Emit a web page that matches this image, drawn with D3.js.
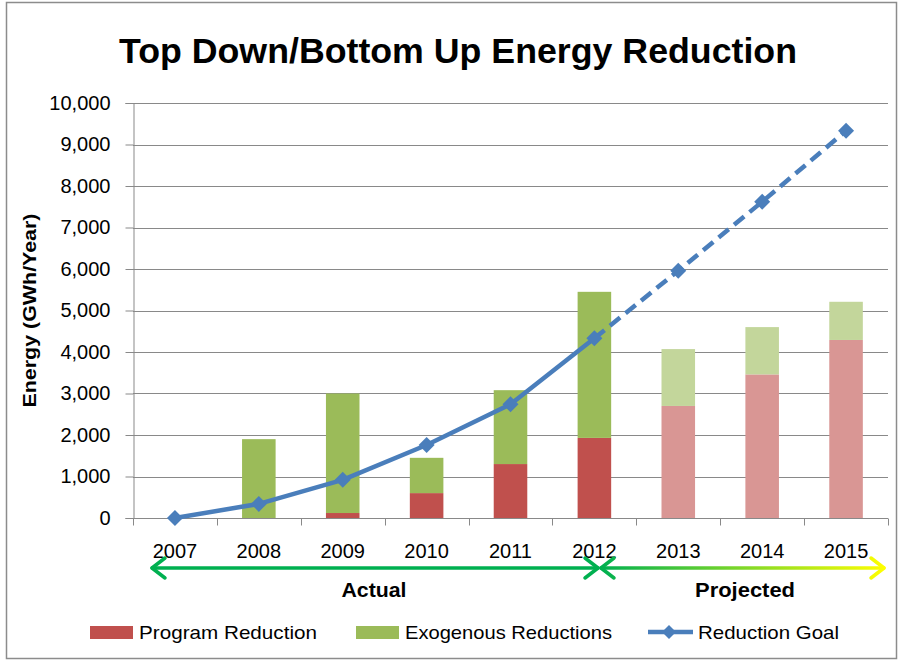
<!DOCTYPE html>
<html>
<head>
<meta charset="utf-8">
<script src="https://cdn.jsdelivr.net/npm/d3@7"></script>
<style>
	body { margin: 0; background: #fff; }
	svg { display: block; font-family: "Liberation Sans", Arial, sans-serif; }
</style>
</head>
<body>
<svg id="chart" width="902" height="662"></svg>
<script>
// chart data
var years = ["2007", "2008", "2009", "2010", "2011", "2012", "2013", "2014", "2015"];
var programReduction = [0, 0, 120, 600, 1300, 1930, 2700, 3460, 4290];
var exogenousReductions = [0, 1900, 2880, 850, 1780, 3520, 1370, 1140, 920];
var reductionGoal = [0, 340, 920, 1760, 2740, 4330, 5960, 7620, 9330];
var projected = [false, false, false, false, false, false, true, true, true];
var yTicks = [0, 1000, 2000, 3000, 4000, 5000, 6000, 7000, 8000, 9000, 10000];

var colors = {
	program: "#C0504D",
	programLight: "#D99694",
	exo: "#9BBB59",
	exoLight: "#C3D69B",
	goal: "#4A7EBB",
	grid: "#898989"
};

var svg = d3.select("#chart");
var margin = {top: 103, right: 14, bottom: 144, left: 133};
var width = 902, height = 662;

//Outer frame
svg.append("rect")
	.attr("x", 6.5).attr("y", 2.5)
	.attr("width", 890).attr("height", 656)
	.attr("fill", "none")
	.attr("stroke", "#8c8c8c")
	.attr("stroke-width", 1.5);

//Title
svg.append("text")
	.attr("x", 119).attr("y", 63)
	.attr("font-size", 35)
	.attr("font-weight", "bold")
	.attr("textLength", 678)
	.attr("lengthAdjust", "spacingAndGlyphs")
	.text("Top Down/Bottom Up Energy Reduction");

//Scales
var x = d3.scaleBand().domain(years).range([margin.left, width - margin.right]).padding(0);
var y = d3.scaleLinear().domain([0, 10000]).range([height - margin.bottom, margin.top]);
var barW = x.bandwidth() * 0.4;
var cx = function(yr){ return x(yr) + x.bandwidth() / 2; };

//Gridlines
svg.append("g").selectAll("line")
	.data(yTicks.filter(function(d){ return d > 0; }))
	.enter().append("line")
	.attr("x1", margin.left).attr("x2", width - margin.right)
	.attr("y1", function(d){ return Math.round(y(d)) + 0.5; })
	.attr("y2", function(d){ return Math.round(y(d)) + 0.5; })
	.attr("stroke", colors.grid)
	.attr("stroke-width", 1);

//Y axis
var yAxis = svg.append("g")
	.attr("transform", "translate(" + (margin.left + 0.5) + ",0)")
	.call(d3.axisLeft(y).tickValues(yTicks).tickSize(8).tickPadding(15).tickFormat(d3.format(",")));
yAxis.select(".domain").attr("stroke", colors.grid);
yAxis.selectAll(".tick line").attr("stroke", colors.grid);
yAxis.selectAll(".tick text")
	.attr("font-size", 20)
	.attr("font-family", "Liberation Sans, Arial, sans-serif")
	.attr("fill", "#000");

//X axis
var xAxisG = svg.append("g")
	.attr("transform", "translate(0," + (Math.round(y(0)) + 0.5) + ")");
xAxisG.append("line")
	.attr("x1", margin.left).attr("x2", width - margin.right)
	.attr("stroke", colors.grid);
xAxisG.selectAll(".xtick")
	.data(years.concat(["end"]))
	.enter().append("line")
	.attr("class", "xtick")
	.attr("x1", function(d, i){ return Math.round(margin.left + i * x.step()) + 0.5; })
	.attr("x2", function(d, i){ return Math.round(margin.left + i * x.step()) + 0.5; })
	.attr("y1", 0).attr("y2", 7)
	.attr("stroke", colors.grid);
xAxisG.selectAll(".xlabel")
	.data(years)
	.enter().append("text")
	.attr("class", "xlabel")
	.attr("x", function(d){ return cx(d); })
	.attr("y", 39)
	.attr("text-anchor", "middle")
	.attr("font-size", 20)
	.text(function(d){ return d; });

//Y axis title
svg.append("text")
	.attr("transform", "translate(36," + ((y(0) + y(10000)) / 2) + ") rotate(-90)")
	.attr("text-anchor", "middle")
	.attr("font-size", 19)
	.attr("font-weight", "bold")
	.attr("textLength", 194)
	.attr("lengthAdjust", "spacingAndGlyphs")
	.text("Energy (GWh/Year)");

//Stacked bars
var bars = svg.append("g");
years.forEach(function(yr, i){
	var p = programReduction[i], e = exogenousReductions[i];
	if (p > 0){
		bars.append("rect")
			.attr("x", cx(yr) - barW / 2)
			.attr("y", y(p))
			.attr("width", barW)
			.attr("height", y(0) - y(p))
			.attr("fill", projected[i] ? colors.programLight : colors.program);
	}
	if (e > 0){
		bars.append("rect")
			.attr("x", cx(yr) - barW / 2)
			.attr("y", y(p + e))
			.attr("width", barW)
			.attr("height", y(p) - y(p + e))
			.attr("fill", projected[i] ? colors.exoLight : colors.exo);
	}
});

//Goal line: solid for actual years, dashed for projections
var pts = years.map(function(yr, i){ return [cx(yr), y(reductionGoal[i])]; });
var line = d3.line();
svg.append("path")
	.attr("d", line(pts.slice(0, 6)))
	.attr("fill", "none")
	.attr("stroke", colors.goal)
	.attr("stroke-width", 4.5)
	.attr("stroke-linejoin", "round");
svg.append("path")
	.attr("d", line(pts.slice(5)))
	.attr("fill", "none")
	.attr("stroke", colors.goal)
	.attr("stroke-width", 4.5)
	.attr("stroke-dasharray", "13,7");

function diamond(px, py, r){
	return "M" + px + "," + (py - r) + "L" + (px + r) + "," + py + "L" + px + "," + (py + r) + "L" + (px - r) + "," + py + "Z";
}
svg.append("g").selectAll("path")
	.data(pts)
	.enter().append("path")
	.attr("d", function(d){ return diamond(d[0], d[1], 8); })
	.attr("fill", colors.goal);

//Actual / Projected arrows
var defs = svg.append("defs");
var grad = defs.append("linearGradient")
	.attr("id", "projGrad")
	.attr("gradientUnits", "userSpaceOnUse")
	.attr("x1", 601).attr("x2", 886).attr("y1", 0).attr("y2", 0);
grad.append("stop").attr("offset", "0%").attr("stop-color", "#00B050");
grad.append("stop").attr("offset", "100%").attr("stop-color", "#FFFF00");

var arrowY = 568;
function arrow(x1, x2, stroke){
	var g = svg.append("g")
		.attr("fill", "none")
		.attr("stroke", stroke)
		.attr("stroke-width", 3.5)
		.attr("stroke-linecap", "round")
		.attr("stroke-linejoin", "round");
	g.append("line").attr("x1", x1).attr("x2", x2).attr("y1", arrowY).attr("y2", arrowY);
	g.append("path").attr("d", "M" + (x1 + 13) + "," + (arrowY - 10) + "L" + x1 + "," + arrowY + "L" + (x1 + 13) + "," + (arrowY + 10));
	g.append("path").attr("d", "M" + (x2 - 13) + "," + (arrowY - 10) + "L" + x2 + "," + arrowY + "L" + (x2 - 13) + "," + (arrowY + 10));
}
arrow(152, 598, "#00B050");
arrow(601, 884, "url(#projGrad)");

svg.append("text")
	.attr("x", 374).attr("y", 597)
	.attr("text-anchor", "middle")
	.attr("font-size", 21)
	.attr("font-weight", "bold")
	.attr("textLength", 65)
	.attr("lengthAdjust", "spacingAndGlyphs")
	.text("Actual");
svg.append("text")
	.attr("x", 745).attr("y", 597)
	.attr("text-anchor", "middle")
	.attr("font-size", 21)
	.attr("font-weight", "bold")
	.attr("textLength", 100)
	.attr("lengthAdjust", "spacingAndGlyphs")
	.text("Projected");

//Legend
var legendY = 632;
var legend = svg.append("g").attr("font-size", 19);
legend.append("rect").attr("x", 90).attr("y", legendY - 6).attr("width", 43).attr("height", 13).attr("fill", colors.program);
legend.append("text").attr("x", 139).attr("y", legendY + 7)
	.attr("textLength", 178).attr("lengthAdjust", "spacingAndGlyphs").text("Program Reduction");
legend.append("rect").attr("x", 356).attr("y", legendY - 6).attr("width", 43).attr("height", 13).attr("fill", colors.exo);
legend.append("text").attr("x", 405).attr("y", legendY + 7)
	.attr("textLength", 207).attr("lengthAdjust", "spacingAndGlyphs").text("Exogenous Reductions");
legend.append("line").attr("x1", 648).attr("x2", 693).attr("y1", legendY).attr("y2", legendY)
	.attr("stroke", colors.goal).attr("stroke-width", 4.5);
legend.append("path").attr("d", diamond(669, legendY, 7)).attr("fill", colors.goal);
legend.append("text").attr("x", 698).attr("y", legendY + 7)
	.attr("textLength", 141).attr("lengthAdjust", "spacingAndGlyphs").text("Reduction Goal");
</script>
</body>
</html>
